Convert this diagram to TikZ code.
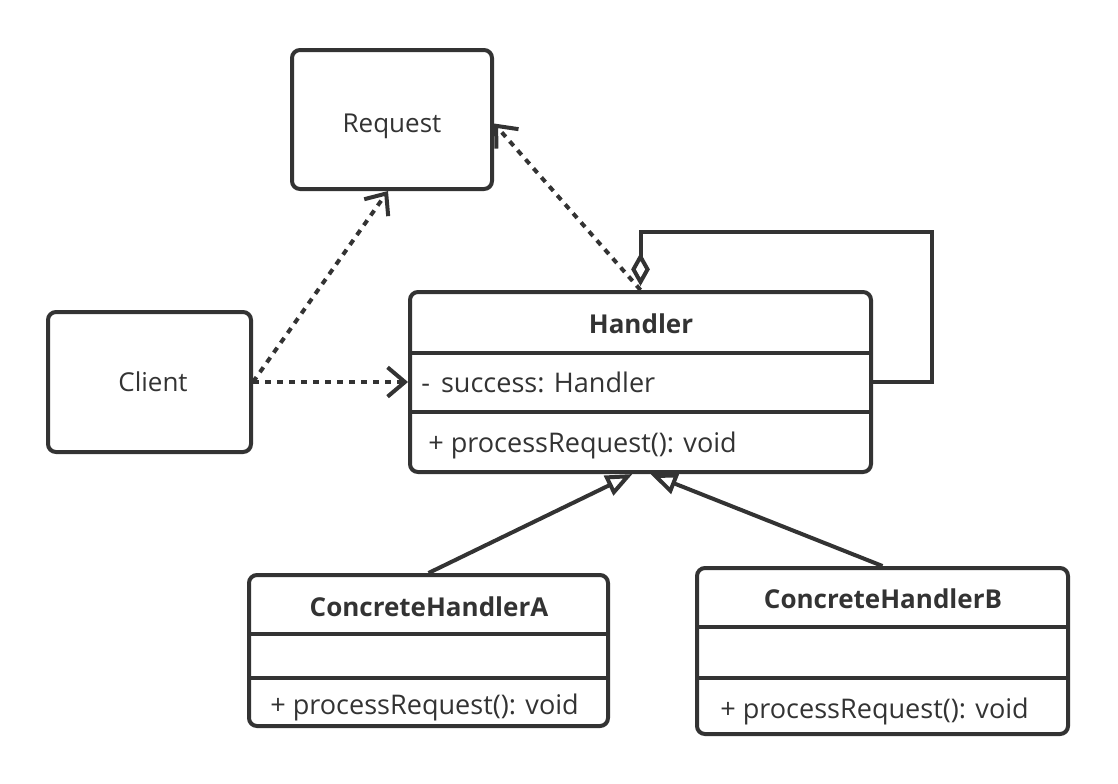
\documentclass[tikz,border=0pt]{standalone}
\usepackage{fontspec}
\setmainfont{Open Sans}
\usetikzlibrary{arrows.meta,calc}
\definecolor{ink}{HTML}{333333}
\begin{document}
\begin{tikzpicture}[x=0.75pt,y=-0.75pt,
  every node/.style={text=ink},
  box/.style={draw=ink,line width=3pt,rounded corners=6pt,inner sep=0pt},
  label/.style={font=\fontsize{19.5pt}{23pt}\selectfont,inner sep=0pt,anchor=base},
  txt/.style={font=\fontsize{20.3pt}{24pt}\selectfont,inner sep=0pt,anchor=base west},
  title/.style={font=\fontsize{19.5pt}{23pt}\selectfont\bfseries,inner sep=0pt,anchor=base},
  divider/.style={draw=ink,line width=3pt},
  dep/.style={draw=ink,line width=3pt,dash pattern=on 4.5pt off 4.5pt,-{Straight Barb[length=13pt,width=22pt]}},
  inh/.style={draw=ink,line width=3pt,-{Triangle[open,length=20pt,width=16pt]}},
  agg/.style={draw=ink,line width=3pt,-{Diamond[open,length=25pt,width=14pt]}}]
\useasboundingbox (0,0) rectangle (1118,783);
% boxes
\node[box,minimum width=150pt,minimum height=104.25pt] (request) at (392,119.5) {};
\node[label] (requestlabel) at (392,132) {Request};
\node[box,minimum width=152.25pt,minimum height=105pt] (client) at (149.5,382) {};
\node[label] (clientlabel) at (153,391) {Client};
\node[box,minimum width=345.75pt,minimum height=135pt] (handler) at (640.5,382) {};
\node[box,minimum width=269.25pt,minimum height=113.25pt] (ha) at (428.5,650.5) {};
\node[box,minimum width=278.25pt,minimum height=124.5pt] (hb) at (882.5,651) {};
% dividers
\draw[divider] (handler.west |- 0,353) -- (handler.east |- 0,353);
\draw[divider] (handler.west |- 0,412) -- (handler.east |- 0,412);
\draw[divider] (ha.west |- 0,634) -- (ha.east |- 0,634);
\draw[divider] (ha.west |- 0,678) -- (ha.east |- 0,678);
\draw[divider] (hb.west |- 0,627) -- (hb.east |- 0,627);
\draw[divider] (hb.west |- 0,678) -- (hb.east |- 0,678);
% texts
\node[title] (htitle) at (641,333) {Handler};
\node[txt] (hattr) at (421,392) {-\hspace{0.15em} success: Handler};
\node[txt] (hop) at (428,452) {+ processRequest(): void};
\node[title] (hatitle) at (429,616) {ConcreteHandlerA};
\node[txt] (haop) at (270,714) {+ processRequest(): void};
\node[title] (hbtitle) at (883,608) {ConcreteHandlerB};
\node[txt] (hbop) at (720,718) {+ processRequest(): void};
% connectors
\draw[dep] (client.east) -- (handler.west);
\draw[dep] (client.east) -- ([xshift=-3pt]request.south);
\draw[dep] (handler.north) -- ([yshift=-3pt]request.east);
\coordinate (loopcorner) at (932,232);
\draw[agg,shorten >=3pt] (handler.east) -| (loopcorner) -| (handler.north);
\draw[inh] (ha.north) -- ($(handler.south)+(-8,0)$);
\draw[inh] (hb.north) -- ($(handler.south)+(10,0)$);
\end{tikzpicture}
\end{document}
